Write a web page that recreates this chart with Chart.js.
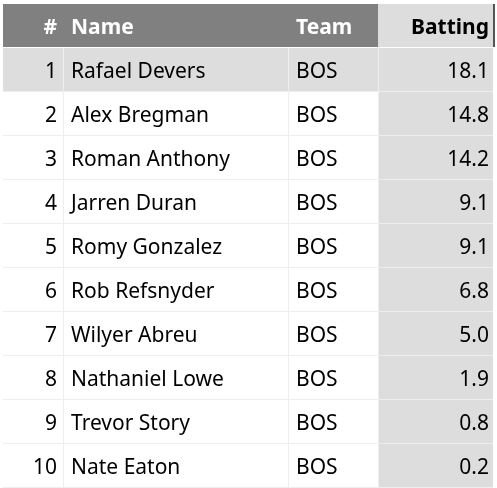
<!DOCTYPE html>
<html>
<head>
<meta charset="utf-8">
<script src="https://cdn.jsdelivr.net/npm/chart.js@4"></script>
<style>
  html, body { margin: 0; padding: 0; background: #fff; }
  #wrap { width: 497px; height: 488px; }
</style>
</head>
<body>
<div id="wrap"><canvas id="tbl"></canvas></div>
<script>
const ranks = [1, 2, 3, 4, 5, 6, 7, 8, 9, 10];
const names = ['Rafael Devers', 'Alex Bregman', 'Roman Anthony', 'Jarren Duran', 'Romy Gonzalez',
  'Rob Refsnyder', 'Wilyer Abreu', 'Nathaniel Lowe', 'Trevor Story', 'Nate Eaton'];
const teams = ['BOS', 'BOS', 'BOS', 'BOS', 'BOS', 'BOS', 'BOS', 'BOS', 'BOS', 'BOS'];
const batting = [18.1, 14.8, 14.2, 9.1, 9.1, 6.8, 5.0, 1.9, 0.8, 0.2];
const headers = ['#', 'Name', 'Team', 'Batting'];

const FONT = '"Noto Sans", "Open Sans", sans-serif';
const cols = [3, 63, 288, 378, 493]; // column edges

// draws the table cells, rows placed by the y category scale
const tablePlugin = {
  id: 'tablePlugin',
  beforeDatasetsDraw(chart) {
    const ctx = chart.ctx;
    const y = chart.scales.y;
    const area = chart.chartArea;
    const rowH = (area.bottom - area.top) / names.length;
    ctx.save();
    // header
    ctx.fillStyle = '#808080';
    ctx.fillRect(cols[0], 4, cols[3] - cols[0], area.top - 5);
    ctx.fillStyle = '#dddddd';
    ctx.fillRect(cols[3], 4, cols[4] - cols[3], area.top - 5);
    ctx.fillStyle = '#555';
    ctx.fillRect(cols[4], 4, 2, area.top - 5);
    ctx.font = 'bold 21px ' + FONT;
    ctx.textBaseline = 'middle';
    const hy = 28;
    ctx.fillStyle = '#fff';
    ctx.textAlign = 'right'; ctx.fillText(headers[0], cols[1] - 6, hy);
    ctx.textAlign = 'left'; ctx.fillText(headers[1], cols[1] + 8, hy);
    ctx.fillText(headers[2], cols[2] + 8, hy);
    ctx.fillStyle = '#000';
    ctx.textAlign = 'right'; ctx.fillText(headers[3], cols[4] - 4, hy);

    ctx.font = '21px ' + FONT;
    names.forEach((n, i) => {
      const cy = y.getPixelForValue(i);
      const top = cy - rowH / 2;
      const ty = cy + 2;
      if (i === 0) {
        ctx.fillStyle = '#dddddd';
        ctx.fillRect(cols[0], top, cols[4] - cols[0], rowH);
      } else {
        ctx.fillStyle = '#dddddd';
        ctx.fillRect(cols[3], top, cols[4] - cols[3], rowH);
      }
      ctx.strokeStyle = '#eeeeee';
      ctx.lineWidth = 1;
      ctx.beginPath();
      ctx.moveTo(cols[0], top + rowH - 0.5); ctx.lineTo(cols[4], top + rowH - 0.5);
      [1, 2, 3].forEach(c => { ctx.moveTo(cols[c] + 0.5, top); ctx.lineTo(cols[c] + 0.5, top + rowH); });
      ctx.stroke();
      ctx.fillStyle = '#000';
      ctx.textAlign = 'right'; ctx.fillText(String(ranks[i]), cols[1] - 6, ty);
      ctx.textAlign = 'left'; ctx.fillText(n, cols[1] + 8, ty);
      ctx.fillText(teams[i], cols[2] + 8, ty);
      ctx.textAlign = 'right'; ctx.fillText(batting[i].toFixed(1), cols[4] - 4, ty);
    });
    ctx.restore();
  }
};

new Chart(document.getElementById('tbl'), {
  type: 'bar',
  data: {
    labels: names,
    datasets: [{ data: batting, backgroundColor: 'rgba(0,0,0,0)', borderWidth: 0 }]
  },
  options: {
    indexAxis: 'y',
    responsive: true,
    maintainAspectRatio: false,
    animation: false,
    layout: { padding: { top: 48, bottom: 0, left: 0, right: 0 } },
    plugins: { legend: { display: false }, tooltip: { enabled: false } },
    scales: {
      x: { display: false, min: 0 },
      y: { display: false }
    }
  },
  plugins: [tablePlugin]
});
</script>
</body>
</html>
